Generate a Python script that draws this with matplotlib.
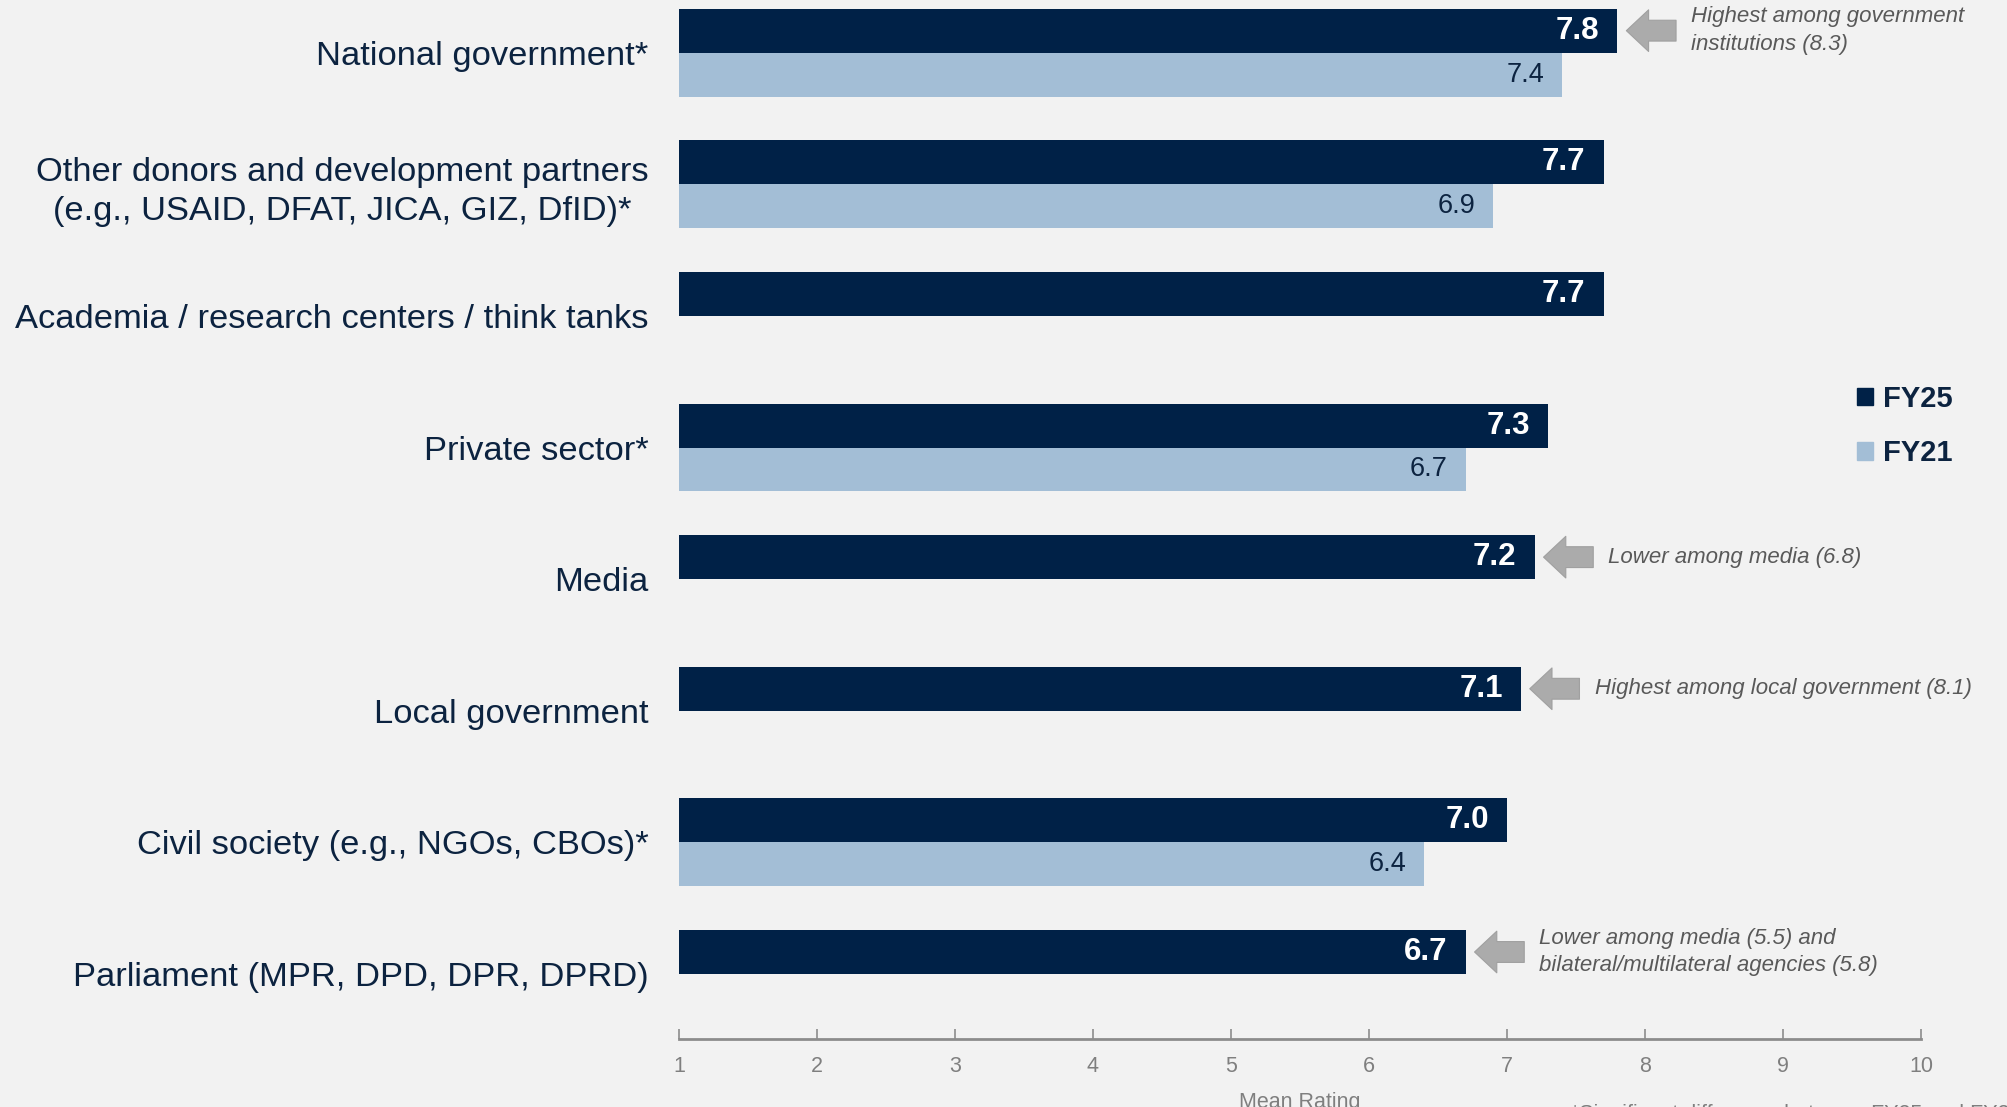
import numpy as np
import matplotlib
matplotlib.use("Agg")
import matplotlib.pyplot as plt
from matplotlib.patches import Patch

# Mean ratings by stakeholder group
categories = [
    "National government*",
    "Other donors and development partners\n(e.g., USAID, DFAT, JICA, GIZ, DfID)*",
    "Academia / research centers / think tanks",
    "Private sector*",
    "Media",
    "Local government",
    "Civil society (e.g., NGOs, CBOs)*",
    "Parliament (MPR, DPD, DPR, DPRD)",
]
fy25 = [7.8, 7.7, 7.7, 7.3, 7.2, 7.1, 7.0, 6.7]
fy21 = [7.4, 6.9, None, 6.7, None, None, 6.4, None]

# side notes pointing at the FY25 bars
note_rows = [0, 4, 5, 7]
note_texts = [
    "Highest among government\ninstitutions (8.3)",
    "Lower among media (6.8)",
    "Highest among local government (8.1)",
    "Lower among media (5.5) and\nbilateral/multilateral agencies (5.8)",
]

NAVY = "#002147"
LIGHT = "#A3BED6"
TEXT = "#0C2340"
GRAY = "#7F7F7F"
BG = "#F2F2F2"

plt.rcParams["font.family"] = ["Liberation Sans", "DejaVu Sans"]

fig = plt.figure(figsize=(20.08, 11.07), dpi=100, facecolor=BG)
ax = fig.add_axes((679 / 2008, 68 / 1107, (1921 - 679) / 2008, 1039 / 1107))
ax.set_facecolor(BG)

h = 0.334
y = np.arange(len(categories))

ax.barh(y - h / 2, fy25, height=h, left=0, color=NAVY, zorder=2)
y21 = [yy + h / 2 for yy, v in zip(y, fy21) if v is not None]
v21 = [v for v in fy21 if v is not None]
ax.barh(y21, v21, height=h, color=LIGHT, zorder=2)

ax.set_xlim(1, 10)
ax.set_ylim(len(categories) - 1 + 0.494, -0.4)

# value labels inside the bar ends
for yy, v in zip(y, fy25):
    ax.annotate(f"{v:.1f}", xy=(v, yy - h / 2), xytext=(-13, 0),
                textcoords="offset points", ha="right", va="center",
                color="white", fontsize=22.5, fontweight="bold", zorder=3)
for yy, v in zip(y21, v21):
    ax.annotate(f"{v:.1f}", xy=(v, yy), xytext=(-13, 0),
                textcoords="offset points", ha="right", va="center",
                color=TEXT, fontsize=19.5, zorder=3)

# grey arrows + italic notes
for r, txt in zip(note_rows, note_texts):
    yy = r - h / 2
    tip = fy25[r] + 0.065
    tail = tip + 0.36
    ax.annotate("", xy=(tip, yy), xytext=(tail, yy),
                arrowprops=dict(arrowstyle="simple,head_length=1.6,head_width=3.0,tail_width=1.5",
                                fc="#ABABAB", ec="#A0A0A0", lw=0.8,
                                shrinkA=0, shrinkB=0, mutation_scale=10),
                annotation_clip=False)
    ax.text(tail + 0.11, yy, txt, ha="left", va="center", fontsize=16,
            style="italic", color="#595959", linespacing=1.4, clip_on=False)

# category labels
ax.set_yticks(y, categories)
ax.tick_params(axis="y", length=0, pad=22, labelsize=24.8, labelcolor=TEXT)
for lab in ax.get_yticklabels():
    lab.set_multialignment("center")
    lab.set_linespacing(1.35)

for s in ["top", "right", "left"]:
    ax.spines[s].set_visible(False)
ax.spines["bottom"].set_color("#8C8C8C")
ax.spines["bottom"].set_linewidth(2)
ax.set_xticks(range(1, 11))
ax.tick_params(axis="x", direction="in", length=7, width=1.2, color="#8C8C8C",
               labelsize=15.5, labelcolor=GRAY, pad=12)
ax.set_xlabel("Mean Rating", fontsize=15.5, color=GRAY, labelpad=11)

leg = ax.legend(handles=[Patch(color=NAVY, label="FY25"), Patch(color=LIGHT, label="FY21")],
                loc="center left", bbox_to_anchor=(1857 / 2008, 1 - 426 / 1107),
                bbox_transform=fig.transFigure, frameon=False, borderpad=0,
                borderaxespad=0, handlelength=0.55, handleheight=0.55,
                handletextpad=0.35, labelspacing=0.9,
                prop=dict(size=21, weight="bold"), labelcolor=TEXT)

fig.text(1571 / 2008, 1 - 1104 / 1107, "*Significant difference between FY25 and FY21",
         ha="left", va="top", fontsize=15.5, color=GRAY)

fig.savefig("out.png", dpi=100, facecolor=BG)
